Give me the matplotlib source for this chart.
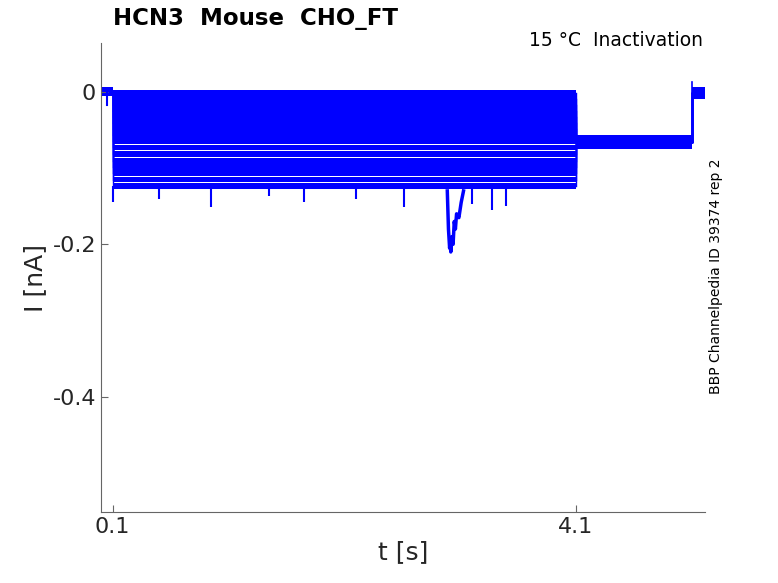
import numpy as np
import matplotlib.pyplot as plt

# protocol timing (s)
t_edges = [0.0, 0.1, 4.1, 5.1, 5.215]

# current levels (nA) of each sweep during the test step 0.1-4.1 s
step_levels = [-0.001, -0.009, -0.017, -0.025, -0.033, -0.041, -0.049, -0.057,
               -0.065, -0.073, -0.082, -0.091, -0.099, -0.107, -0.115, -0.123]
hold_level = 0.0
tail_level = -0.066
end_level = -0.002

# noise half-widths (nA) per segment
hold_noise = 0.006
step_noise = 0.0039
tail_noise = 0.0095
end_noise = 0.008

# downward spikes on the most negative sweep: time (s), minimum (nA)
spike_t = [0.10, 0.50, 0.95, 1.45, 1.75, 2.62, 3.38, 3.50, 3.20, 2.20]
spike_min = [-0.145, -0.140, -0.151, -0.137, -0.145, -0.151, -0.155, -0.150, -0.147, -0.140]

# large transient near 3 s
big_t = [2.99, 3.00, 3.01, 3.015, 3.02, 3.03, 3.04, 3.05, 3.06, 3.07, 3.09, 3.11, 3.13]
big_i = [-0.13, -0.18, -0.205, -0.195, -0.21, -0.19, -0.20, -0.17, -0.18, -0.16, -0.165, -0.145, -0.13]

blue = '#0000ff'

fig = plt.figure(figsize=(7.78, 5.83), dpi=100)
ax = fig.add_axes([101 / 778, 1 - 512 / 583, 604 / 778, 469 / 583])

for lvl in step_levels:
    levels = [hold_level, lvl, tail_level, end_level]
    noise = [hold_noise, step_noise, tail_noise, end_noise]
    for k in range(4):
        ax.fill_between([t_edges[k], t_edges[k + 1]],
                        levels[k] - noise[k], levels[k] + noise[k],
                        color=blue, linewidth=0)
    # capacitive steps
    ax.plot([t_edges[1]] * 2, [hold_level, lvl], color=blue, lw=1)
    ax.plot([t_edges[2]] * 2, [lvl, tail_level], color=blue, lw=1)
    ax.plot([t_edges[3]] * 2, [tail_level, end_level], color=blue, lw=1)

ax.vlines(spike_t, step_levels[-1], spike_min, color=blue, lw=1.5)
ax.plot(big_t, big_i, color=blue, lw=2.5)
ax.plot([t_edges[3], t_edges[3]], [end_level, 0.0135], color=blue, lw=1.2)
ax.plot([0.05, 0.05], [hold_level, -0.017], color=blue, lw=1.5)

ax.set_xlim(0.0, 5.215)
ax.set_ylim(-0.551, 0.064)
ax.set_xticks([0.1, 4.1])
ax.set_xticklabels(['0.1', '4.1'])
ax.set_yticks([0, -0.2, -0.4])
ax.set_yticklabels(['0', '-0.2', '-0.4'])

for s in ['top', 'right']:
    ax.spines[s].set_visible(False)
for s in ['left', 'bottom']:
    ax.spines[s].set_color('#666666')
ax.tick_params(direction='in', length=5, colors='#666666', labelcolor='#262626',
               labelsize=16)

ax.set_xlabel('t [s]', fontsize=18, color='#262626', labelpad=2)
ax.set_ylabel('I [nA]', fontsize=18, color='#262626', labelpad=4)

fig.text(113 / 778, 1 - 19 / 583, 'HCN3  Mouse  CHO_FT', fontsize=16.5,
         fontweight='bold', va='center', ha='left')
fig.text(703 / 778, 1 - 41 / 583, '15 °C  Inactivation', fontsize=13.5,
         va='center', ha='right')
fig.text(716 / 778, 1 - 276 / 583, 'BBP Channelpedia ID 39374 rep 2', fontsize=10,
         rotation=90, va='center', ha='center')

fig.savefig('out.png', dpi=100)
